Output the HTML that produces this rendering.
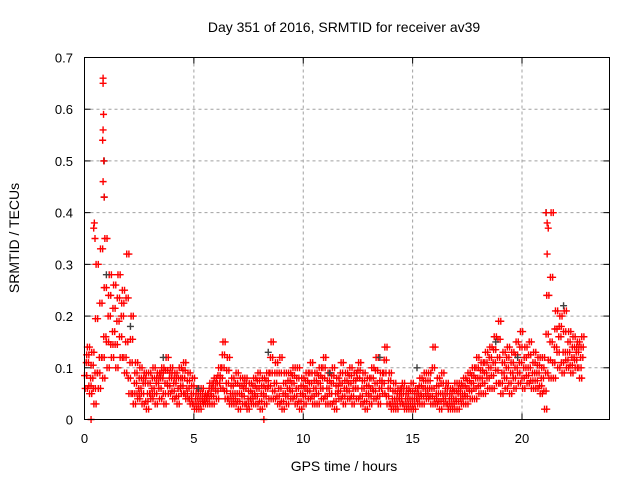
<!DOCTYPE html>
<html><head><meta charset="utf-8"><style>
body{margin:0;background:#fff}
svg{display:block;font-family:"Liberation Sans",sans-serif}
</style></head><body>
<svg id="chart" width="640" height="480" xmlns="http://www.w3.org/2000/svg">
<rect width="640" height="480" fill="#fff"/>
<text x="344" y="32" text-anchor="middle" font-size="14">Day 351 of 2016, SRMTID for receiver av39</text>
<text x="344" y="471" text-anchor="middle" font-size="14">GPS time / hours</text>
<text transform="translate(19,238) rotate(-90)" text-anchor="middle" font-size="14">SRMTID / TECUs</text>
<g id="grid"></g>
<g id="ticks"></g>
<g id="marks"></g>
<rect x="84.5" y="57.5" width="525" height="362" fill="none" stroke="#000" stroke-width="1"/>
</svg>
<script>
const xTicks=[0,5,10,15,20];
const yTicks=[0,0.1,0.2,0.3,0.4,0.5,0.6,0.7];
const yTickLabels=["0","0.1","0.2","0.3","0.4","0.5","0.6","0.7"];
const hours=[0,0.2,0.4,0.6,0.8,1,1.2,1.4,1.6,1.8,2,2.2,2.4,2.6,2.8,3,3.2,3.4,3.6,3.8,4,4.2,4.4,4.6,4.8,5,5.2,5.4,5.6,5.8,6,6.2,6.4,6.6,6.8,7,7.2,7.4,7.6,7.8,8,8.2,8.4,8.6,8.8,9,9.2,9.4,9.6,9.8,10,10.2,10.4,10.6,10.8,11,11.2,11.4,11.6,11.8,12,12.2,12.4,12.6,12.8,13,13.2,13.4,13.6,13.8,14,14.2,14.4,14.6,14.8,15,15.2,15.4,15.6,15.8,16,16.2,16.4,16.6,16.8,17,17.2,17.4,17.6,17.8,18,18.2,18.4,18.6,18.8,19,19.2,19.4,19.6,19.8,20,20.2,20.4,20.6,20.8,21,21.2,21.4,21.6,21.8,22,22.2,22.4,22.6];
const valLow=[.06,.05,.03,.06,.08,.10,.12,.10,.12,.09,.05,.03,.04,.03,.02,.04,.03,.04,.03,.05,.04,.03,.05,.04,.03,.02,.02,.03,.03,.03,.04,.06,.04,.03,.03,.02,.03,.02,.03,.03,.02,.03,.04,.04,.03,.02,.03,.04,.03,.02,.03,.04,.03,.03,.04,.03,.03,.02,.04,.03,.04,.03,.04,.03,.02,.03,.04,.03,.05,.03,.02,.02,.03,.02,.02,.02,.03,.03,.04,.03,.03,.02,.03,.02,.02,.02,.03,.03,.04,.04,.05,.05,.06,.06,.07,.05,.06,.05,.06,.07,.06,.07,.06,.06,.05,.02,.08,.08,.10,.09,.10,.09,.10,.08];
const valMid=[.11,.08,.09,.12,.16,.20,.17,.19,.20,.15,.11,.07,.06,.07,.05,.06,.07,.08,.07,.08,.07,.06,.08,.06,.05,.04,.04,.04,.05,.06,.07,.10,.07,.05,.05,.05,.06,.04,.05,.06,.05,.06,.09,.07,.06,.05,.06,.07,.06,.05,.06,.07,.06,.07,.08,.06,.07,.05,.07,.06,.07,.06,.08,.06,.05,.06,.07,.06,.09,.06,.04,.04,.05,.04,.04,.04,.05,.06,.06,.06,.05,.05,.05,.04,.04,.05,.05,.06,.07,.08,.08,.09,.10,.11,.12,.09,.10,.09,.10,.11,.10,.10,.09,.09,.08,.09,.15,.14,.16,.13,.13,.12,.13,.12];
const valHigh=[.14,.13,.30,.33,.35,.28,.26,.28,.25,.32,.20,.11,.10,.09,.09,.10,.09,.10,.12,.10,.09,.10,.11,.09,.08,.06,.06,.05,.07,.08,.10,.15,.12,.08,.09,.08,.08,.07,.08,.09,.08,.09,.15,.11,.12,.09,.09,.10,.10,.08,.09,.11,.09,.10,.12,.09,.10,.08,.11,.09,.10,.09,.11,.09,.08,.10,.12,.09,.14,.09,.07,.06,.07,.06,.07,.06,.08,.09,.09,.14,.08,.09,.07,.06,.07,.07,.08,.09,.10,.12,.11,.13,.14,.16,.19,.13,.14,.13,.15,.17,.14,.15,.13,.12,.12,.24,.40,.21,.20,.21,.17,.16,.15,.16];
const outlierHours=[0.85,0.85,0.87,0.85,0.83,0.88,0.85,0.9,0.45,0.42,0.48,21.1,21.15,21.15,21.2,0.3,8.2];
const outlierVals=[.66,.65,.59,.56,.54,.50,.46,.43,.38,.37,.35,.40,.38,.32,.37,0,0];
const darkHours=[0.9,0.9,1.0,2.1,3.6,5.2,8.4,11.2,13.5,15.2,18.8,19.8,21.1,21.9];
const darkVals=[.50,.43,.28,.18,.12,.06,.13,.09,.12,.10,.15,.12,.40,.22];

const X0=84.5,X1=609.5,XMAX=24,Y0=419.5,Y1=57.5,YMAX=0.7;
const xs=h=>X0+(X1-X0)*h/XMAX;
const ys=v=>Y0-(Y0-Y1)*v/YMAX;
const NS="http://www.w3.org/2000/svg";
function mk(tag,attrs,parent,txt){const e=document.createElementNS(NS,tag);for(const k in attrs)e.setAttribute(k,attrs[k]);if(txt!==undefined)e.textContent=txt;parent.appendChild(e);return e;}
const grid=document.getElementById('grid'),ticks=document.getElementById('ticks'),marks=document.getElementById('marks');
xTicks.forEach(t=>{const x=xs(t);
 if(t>0){const g=mk('line',{x1:x,x2:x,y1:Y1,y2:Y0,stroke:'#a0a0a0','stroke-dasharray':'3,3'},grid);
 
 }
 mk('line',{x1:x,x2:x,y1:Y0,y2:Y0-6,stroke:'#000'},ticks);
 mk('line',{x1:x,x2:x,y1:Y1,y2:Y1+6,stroke:'#000'},ticks);
 const l=mk('text',{x:x,y:443,'text-anchor':'middle','font-size':13},ticks,String(t));
 
 
});
yTicks.forEach((t,i)=>{const y=ys(t);
 if(t>0&&t<YMAX){const g=mk('line',{x1:X0,x2:X1,y1:y,y2:y,stroke:'#a0a0a0','stroke-dasharray':'3,3'},grid);
 
 }
 mk('line',{x1:X0,x2:X0+6,y1:y,y2:y,stroke:'#000'},ticks);
 mk('line',{x1:X1,x2:X1-6,y1:y,y2:y,stroke:'#000'},ticks);
 const l=mk('text',{x:73,y:y+5,'text-anchor':'end','font-size':13},ticks,yTickLabels[i]);
 
 
});
function plus(h,v,color,name){const x=xs(h),y=ys(v);
 const p=mk('path',{d:`M${x-3.5},${y}H${x+3.5}M${x},${y-3.5}V${y+3.5}`,stroke:color,'stroke-width':1.4,fill:'none'},marks);
 
 }
hours.forEach((h,i)=>{
 [0,0.1].forEach(o=>{
 plus(h+0.03+o,valLow[i],'#ff0000','point-low');plus(h+0.08+o,valMid[i],'#ff0000','point-mid');plus(h+0.13+o,valHigh[i],'#ff0000','point-high');
 plus(h+o,(valLow[i]+valMid[i])/2,'#ff0000','point-mid-low');plus(h+0.1+o,(valMid[i]+valHigh[i])/2,'#ff0000','point-mid-high');});
});
darkHours.forEach((h,i)=>plus(h,darkVals[i],'#404040','point-dark'));
outlierHours.forEach((h,i)=>plus(h,outlierVals[i],'#ff0000','point-outlier'));
</script>
</body></html>
